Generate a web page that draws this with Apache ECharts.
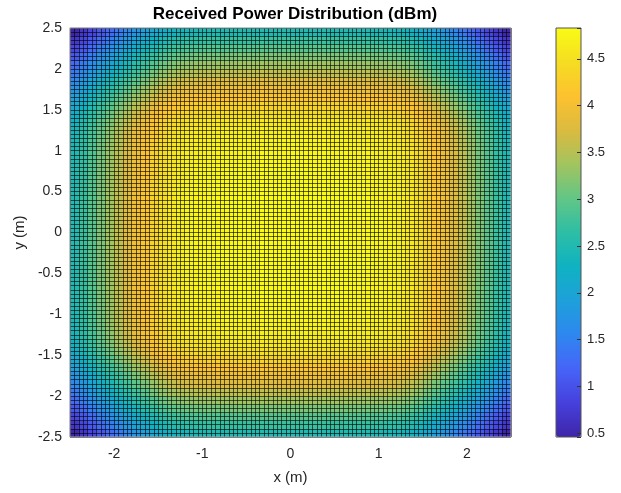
<!DOCTYPE html>
<html><head><meta charset="utf-8">
<script src="https://cdn.jsdelivr.net/npm/echarts@6/dist/echarts.min.js"></script>
<style>html,body{margin:0;padding:0;background:#fff}#c{width:621px;height:493px}</style>
</head><body><div id="c"></div>
<script>
// Cell centres (m) of the 0.1 m colour cells, along x and along y
const cellCenters = [-2.45,-2.35,-2.25,-2.15,-2.05,-1.95,-1.85,-1.75,-1.65,-1.55,-1.45,-1.35,-1.25,-1.15,-1.05,-0.95,-0.85,-0.75,-0.65,-0.55,-0.45,-0.35,-0.25,-0.15,-0.05,
  0.05,0.15,0.25,0.35,0.45,0.55,0.65,0.75,0.85,0.95,1.05,1.15,1.25,1.35,1.45,1.55,1.65,1.75,1.85,1.95,2.05,2.15,2.25,2.35,2.45];
// Received power (dBm), one quadrant (field is mirror-symmetric in x and y).
// row = |y| from 0.05 to 2.45, column = |x| from 0.05 to 2.45
const powerQuadrant = [
[4.83,4.83,4.83,4.83,4.82,4.82,4.81,4.80,4.79,4.78,4.76,4.73,4.69,4.61,4.49,4.33,4.15,3.97,3.78,3.58,3.37,3.16,2.94,2.72,2.50],
[4.83,4.83,4.83,4.83,4.82,4.82,4.81,4.80,4.79,4.78,4.76,4.73,4.69,4.61,4.49,4.33,4.15,3.97,3.78,3.58,3.37,3.16,2.94,2.72,2.50],
[4.83,4.83,4.83,4.83,4.82,4.82,4.81,4.80,4.79,4.78,4.76,4.73,4.69,4.61,4.49,4.33,4.15,3.97,3.78,3.58,3.37,3.16,2.94,2.72,2.50],
[4.83,4.83,4.83,4.83,4.82,4.82,4.81,4.80,4.79,4.78,4.76,4.73,4.69,4.61,4.49,4.33,4.15,3.97,3.78,3.58,3.37,3.16,2.94,2.72,2.50],
[4.82,4.82,4.82,4.82,4.81,4.81,4.80,4.79,4.78,4.77,4.75,4.72,4.68,4.60,4.48,4.32,4.14,3.96,3.77,3.57,3.36,3.15,2.93,2.71,2.49],
[4.82,4.82,4.82,4.82,4.81,4.81,4.80,4.79,4.78,4.77,4.75,4.72,4.68,4.60,4.48,4.32,4.14,3.96,3.77,3.57,3.36,3.15,2.93,2.71,2.49],
[4.81,4.81,4.81,4.81,4.80,4.80,4.79,4.78,4.77,4.76,4.74,4.71,4.67,4.59,4.47,4.31,4.13,3.95,3.76,3.56,3.35,3.14,2.92,2.70,2.48],
[4.80,4.80,4.80,4.80,4.79,4.79,4.78,4.77,4.76,4.75,4.73,4.70,4.66,4.58,4.46,4.30,4.12,3.94,3.75,3.55,3.34,3.13,2.91,2.69,2.48],
[4.79,4.79,4.79,4.79,4.78,4.78,4.77,4.76,4.75,4.74,4.72,4.69,4.65,4.57,4.45,4.29,4.11,3.93,3.74,3.54,3.33,3.12,2.90,2.68,2.47],
[4.78,4.78,4.78,4.78,4.77,4.77,4.76,4.75,4.74,4.73,4.71,4.68,4.64,4.56,4.44,4.28,4.10,3.92,3.73,3.53,3.32,3.11,2.89,2.67,2.46],
[4.76,4.76,4.76,4.76,4.75,4.75,4.74,4.73,4.72,4.71,4.69,4.66,4.62,4.54,4.42,4.26,4.08,3.90,3.71,3.52,3.31,3.10,2.88,2.66,2.44],
[4.73,4.73,4.73,4.73,4.72,4.72,4.71,4.70,4.69,4.68,4.66,4.63,4.59,4.51,4.39,4.23,4.05,3.88,3.69,3.49,3.28,3.07,2.85,2.63,2.41],
[4.69,4.69,4.69,4.69,4.68,4.68,4.67,4.66,4.65,4.64,4.62,4.59,4.55,4.47,4.35,4.19,4.02,3.84,3.65,3.45,3.24,3.03,2.82,2.60,2.38],
[4.61,4.61,4.61,4.61,4.60,4.60,4.59,4.58,4.57,4.56,4.54,4.51,4.47,4.39,4.27,4.12,3.94,3.76,3.57,3.38,3.17,2.96,2.74,2.53,2.31],
[4.49,4.49,4.49,4.49,4.48,4.48,4.47,4.46,4.45,4.44,4.42,4.39,4.35,4.27,4.16,4.00,3.82,3.65,3.46,3.27,3.06,2.85,2.64,2.42,2.21],
[4.33,4.33,4.33,4.33,4.32,4.32,4.31,4.30,4.29,4.28,4.26,4.23,4.19,4.12,4.00,3.85,3.67,3.50,3.31,3.12,2.91,2.71,2.50,2.28,2.07],
[4.15,4.15,4.15,4.15,4.14,4.14,4.13,4.12,4.11,4.10,4.08,4.05,4.02,3.94,3.82,3.67,3.50,3.33,3.14,2.95,2.75,2.55,2.34,2.13,1.92],
[3.97,3.97,3.97,3.97,3.96,3.96,3.95,3.94,3.93,3.92,3.90,3.88,3.84,3.76,3.65,3.50,3.33,3.15,2.97,2.78,2.59,2.39,2.18,1.97,1.76],
[3.78,3.78,3.78,3.78,3.77,3.77,3.76,3.75,3.74,3.73,3.71,3.69,3.65,3.57,3.46,3.31,3.14,2.97,2.80,2.61,2.41,2.22,2.01,1.80,1.60],
[3.58,3.58,3.58,3.58,3.57,3.57,3.56,3.55,3.54,3.53,3.52,3.49,3.45,3.38,3.27,3.12,2.95,2.78,2.61,2.42,2.23,2.04,1.83,1.63,1.42],
[3.37,3.37,3.37,3.37,3.36,3.36,3.35,3.34,3.33,3.32,3.31,3.28,3.24,3.17,3.06,2.91,2.75,2.59,2.41,2.23,2.04,1.85,1.65,1.45,1.24],
[3.16,3.16,3.16,3.16,3.15,3.15,3.14,3.13,3.12,3.12,3.10,3.07,3.03,2.96,2.85,2.71,2.55,2.39,2.22,2.04,1.85,1.66,1.46,1.26,1.06],
[2.94,2.94,2.94,2.94,2.93,2.93,2.92,2.91,2.90,2.90,2.88,2.85,2.82,2.75,2.64,2.50,2.34,2.18,2.01,1.83,1.65,1.46,1.26,1.07,0.87],
[2.72,2.72,2.72,2.72,2.71,2.71,2.70,2.69,2.69,2.68,2.66,2.63,2.60,2.53,2.42,2.28,2.13,1.97,1.80,1.63,1.45,1.26,1.07,0.88,0.69],
[2.50,2.50,2.50,2.50,2.49,2.49,2.48,2.48,2.47,2.46,2.44,2.41,2.38,2.31,2.21,2.07,1.92,1.76,1.60,1.42,1.24,1.06,0.87,0.69,0.46]
];
const axisTicks = [-2,-1,0,1,2];
const yAxisTicks = [-2.5,-2,-1.5,-1,-0.5,0,0.5,1,1.5,2,2.5];
const colorRange = [0.46, 4.83];
const parula = ['#3e26a8','#4640dd','#4664f8','#2e87f0','#1ea0da','#0fb2c2','#2dbea5','#62c686','#a2c45f','#dbbb3f','#fdc12f','#f5dd22','#f9fb15'];

const half = powerQuadrant.length;
function qIndex(k){ return k < half ? half - 1 - k : k - half; }
const heat = [];
for (let yi = 0; yi < cellCenters.length; yi++) {
  for (let xi = 0; xi < cellCenters.length; xi++) {
    heat.push([xi, yi, powerQuadrant[qIndex(yi)][qIndex(xi)]]);
  }
}
const FONT = 'Liberation Sans';
const txt = '#262626';
const chart = echarts.init(document.getElementById('c'), null, {renderer:'canvas'});
const meshLine = {show:true, lineStyle:{color:'rgba(0,0,0,0.6)', width:1}};
chart.setOption({
  animation:false,
  backgroundColor:'#ffffff',
  title:{text:'Received Power Distribution (dBm)', left:290, top:1, textAlign:'center',
    textStyle:{fontFamily:FONT, fontWeight:'bold', fontSize:17, color:'#000'}},
  grid:[
    {left:70, top:28, width:441, height:409, show:true, borderColor:'#a8a8a8', borderWidth:1, z:10},
    {left:556, top:28, width:25, height:409, show:true, borderColor:'#555', borderWidth:1, z:10}
  ],
  visualMap:{type:'continuous', min:colorRange[0], max:colorRange[1], seriesIndex:0,
    orient:'vertical', left:556, top:28, itemWidth:25, itemHeight:409, padding:0,
    calculable:false, hoverLink:false, inRange:{color:parula}},
  xAxis:[
    {type:'category', gridIndex:0, data:cellCenters, show:false},
    {type:'value', gridIndex:0, min:-2.5, max:2.5, interval:0.05, z:5, axisLine:{show:false}, axisTick:{show:false}, axisLabel:{show:false}, splitLine:meshLine},
    {type:'value', gridIndex:0, min:-2.5, max:2.5, position:'bottom', axisLine:{show:false}, splitLine:{show:false},
      axisTick:{show:false}, axisLabel:{customValues:axisTicks, fontFamily:FONT, fontSize:14, color:txt, margin:10},
      name:'x (m)', nameLocation:'middle', nameGap:33, nameTextStyle:{fontFamily:FONT, fontSize:15, color:txt}},
    {type:'value', gridIndex:1, min:0, max:1, show:false}
  ],
  yAxis:[
    {type:'category', gridIndex:0, data:cellCenters, show:false},
    {type:'value', gridIndex:0, min:-2.5, max:2.5, interval:0.05, z:5, axisLine:{show:false}, axisTick:{show:false}, axisLabel:{show:false}, splitLine:meshLine},
    {type:'value', gridIndex:0, min:-2.5, max:2.5, position:'left', axisLine:{show:false}, splitLine:{show:false},
      axisTick:{show:false}, axisLabel:{customValues:yAxisTicks, fontFamily:FONT, fontSize:14, color:txt, margin:8},
      name:'y (m)', nameLocation:'middle', nameGap:40, nameTextStyle:{fontFamily:FONT, fontSize:15, color:txt}},
    {type:'value', gridIndex:1, min:colorRange[0], max:colorRange[1], splitNumber:9, position:'right', z:10,
      axisLine:{show:false}, splitLine:{show:false}, axisTick:{show:false},
      axisLabel:{showMinLabel:false, showMaxLabel:false, fontFamily:FONT, fontSize:13, color:txt, margin:6}},
    {type:'value', gridIndex:1, min:colorRange[0], max:colorRange[1], splitNumber:9, position:'left', offset:-25, z:12,
      axisLine:{show:false}, splitLine:{show:false}, axisLabel:{show:false},
      axisTick:{show:true, inside:false, length:4, lineStyle:{color:'#333'}}}
  ],
  series:[{type:'heatmap', xAxisIndex:0, yAxisIndex:0, data:heat, progressive:0, emphasis:{disabled:true}, itemStyle:{borderWidth:0}}]
});
</script></body></html>
